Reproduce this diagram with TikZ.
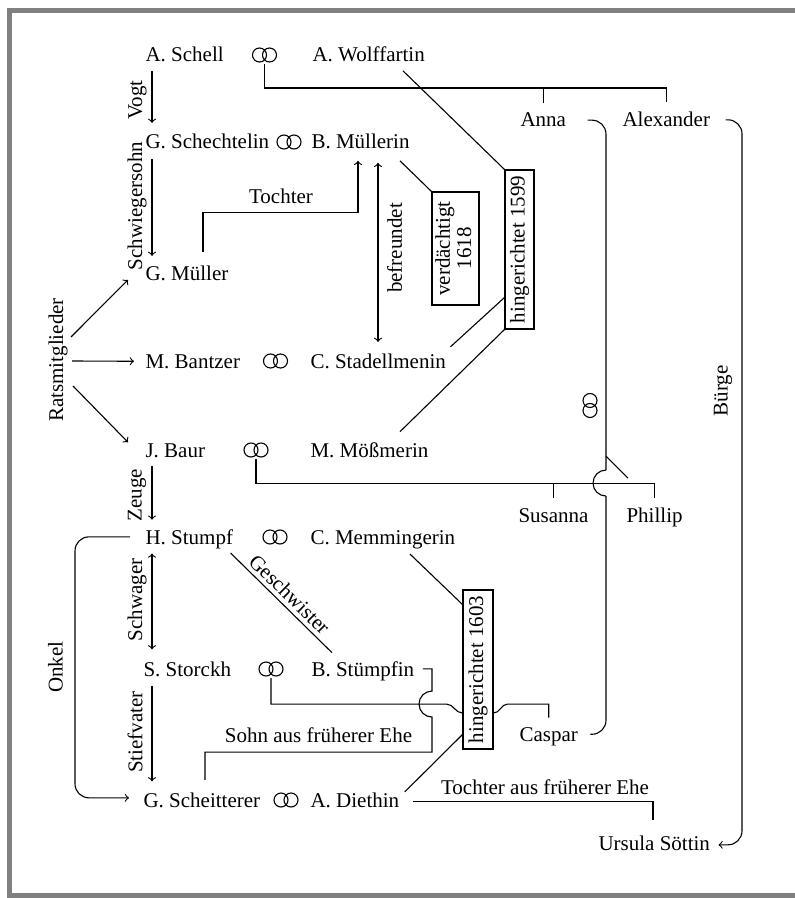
\documentclass[tikz,border=0pt]{standalone}
\usepackage{fontspec}
\setmainfont{Liberation Serif}
\usepackage{graphicx}
\usetikzlibrary{calc}
\begin{document}
\begin{tikzpicture}[x=0.5pt,y=-0.5pt,line width=0.55pt,font=\fontsize{10.5}{12.6}\selectfont]
	\tikzstyle{person}=[anchor=base west,inner sep=0]
	\tikzstyle{relation}=[rotate=90,inner sep=0]
	\tikzset{
		rings/.style={inner sep=0,minimum width=13pt,minimum height=8.5pt,
			path picture={\draw ([xshift=-2.5pt]path picture bounding box.center) circle[radius=3.5pt]
				([xshift=2.5pt]path picture bounding box.center) circle[radius=3.5pt];}},
		rings up/.style={inner sep=0,minimum width=8.5pt,minimum height=13pt,
			path picture={\draw ([yshift=-2.5pt]path picture bounding box.center) circle[radius=3.5pt]
				([yshift=2.5pt]path picture bounding box.center) circle[radius=3.5pt];}},
		verdict/.style={draw,inner sep=0}
	}
	\useasboundingbox (0,0) rectangle (795,898);
	\draw[black!50,line width=2.3pt] (795,10.5) -- (9.5,10.5) -- (9.5,895.5) -- (795,895.5);
	\node[person] (schell) at (145,62) {A. Schell};
	\node[rings] (r1) at (264.5,55) {};
	\node[person] (wolffartin) at (312,62) {A. Wolffartin};
	\node[person] (schechtelin) at (145,149) {G. Schechtelin};
	\node[rings] (r2) at (289,142) {};
	\node[person] (muellerin) at (311,149) {B. Müllerin};
	\node[person] (mueller) at (145,281) {G. Müller};
	\node[person] (bantzer) at (145,368) {M. Bantzer};
	\node[rings] (r3) at (275.5,361) {};
	\node[person] (stadellmenin) at (310,368) {C. Stadellmenin};
	\node[person] (baur) at (145,457) {J. Baur};
	\node[rings] (r4) at (256,450) {};
	\node[person] (moessmerin) at (310,457) {M. Mößmerin};
	\node[person] (stumpf) at (145,544) {H. Stumpf};
	\node[rings] (r5) at (275,537) {};
	\node[person] (memmingerin) at (310,544) {C. Memmingerin};
	\node[person] (storckh) at (143,676) {S. Storckh};
	\node[rings] (r6) at (271,669) {};
	\node[person] (stuempfin) at (311,676) {B. Stümpfin};
	\node[person] (scheitterer) at (143,807) {G. Scheitterer};
	\node[rings] (r7) at (286,800) {};
	\node[person] (diethin) at (310,807) {A. Diethin};
	\node[person] (anna) at (520,127) {Anna};
	\node[person] (alexander) at (622,127) {Alexander};
	\node[person] (susanna) at (518,522) {Susanna};
	\node[person] (phillip) at (626,522) {Phillip};
	\node[person] (caspar) at (519,741) {Caspar};
	\node[person] (ursula) at (598,850) {Ursula Söttin};
	\node[rings up] (r8) at (590,405.5) {};
	\node[verdict,minimum width=23.5pt,minimum height=56.5pt] (verd) at (455.5,248.5)
		{\rotatebox{90}{\begin{tabular}{@{}c@{}}verdächtigt\\[-2pt]1618\end{tabular}}};
	\node[verdict,minimum width=14.5pt,minimum height=79.5pt] (h1599) at (519.5,249.5) {\rotatebox{90}{hingerichtet 1599}};
	\node[verdict,minimum width=15pt,minimum height=79.5pt] (h1603) at (478,669.5) {\rotatebox{90}{hingerichtet 1603}};
	\node[relation] (vogt) at (137.5,100) {Vogt};
	\node[relation] (schwiegersohn) at (137,206) {Schwiegersohn};
	\node[relation] (zeuge) at (137,495) {Zeuge};
	\node[relation] (schwager) at (137,600) {Schwager};
	\node[relation] (stiefvater) at (135,732) {Stiefvater};
	\node[relation] (rats) at (58,360) {Ratsmitglieder};
	\node[relation] (onkel) at (55.5,667) {Onkel};
	\node[relation] (befreundet) at (394.5,248) {befreundet};
	\node[relation] (buerge) at (723,391) {Bürge};
	\node (tochter) at (281,196) {Tochter};
	\node (sohn) at (318.5,735) {Sohn aus früherer Ehe};
	\node (tochterehe) at (545,787) {Tochter aus früherer Ehe};
	\coordinate (annax) at (606,127);
	\coordinate (alexx) at (742,127);
	\coordinate (stx) at (432,676);
	\coordinate (onkelx) at (75,667);
	\draw[->] ($(schell.south west)+(7,8)$) -- ($(schechtelin.north west)+(7,-11)$);
	\draw[->] ($(schechtelin.south west)+(7,9)$) -- ($(mueller.north west)+(7,-10)$);
	\draw[->] ($(baur.south west)+(7,8)$) -- ($(stumpf.north west)+(7,-9)$);
	\draw[<->] ($(stumpf.south west)+(7,4.5)$) -- ($(storckh.north west)+(9,-11.5)$);
	\draw[->] ($(storckh.south west)+(9,9)$) -- ($(scheitterer.north west)+(9,-10.5)$);
	\draw[->] ($(rats.center)+(13,-23)$) -- ($(mueller.west)+(-17,6)$);
	\draw[->] ($(rats.center)+(14,1)$) -- ($(bantzer.west)+(-11,0)$);
	\draw[->] ($(rats.center)+(15,26)$) -- ($(baur.west)+(-17,-8)$);
	\draw[->,rounded corners=7pt] ($(stumpf.west)+(-15,-2)$) -| (onkelx) |- ($(scheitterer.west)+(-14,-2)$);
	\draw[->] ($(mueller.north west)+(58,-14)$) |- ($(muellerin.south west)+(47,63)$) -- ($(muellerin.south west)+(47,11)$);
	\draw[<->] ($(muellerin.south west)+(67,13)$) -- ($(stadellmenin.north west)+(68,-11)$);
	\draw ($(muellerin.south west)+(89,11)$) -- (verd.north west);
	\draw ($(wolffartin.south west)+(91,8)$) -- (h1599.north west);
	\draw ($(stadellmenin.north east)+(4,-6)$) -- ($(h1599.south west)+(0,-32)$);
	\draw ($(moessmerin.north west)+(90,-10)$) -- (h1599.south west);
	\draw ($(memmingerin.south west)+(100,5)$) -- ($(h1603.north west)+(0,15)$);
	\draw ($(diethin.north east)+(5,0)$) -- ($(h1603.south west)+(0,-15)$);
	\draw (r1.south) -- ++(0,24) coordinate (schellbar) -| ($(alexander.north)+(0,-10)$);
	\draw (anna.north |- schellbar) -- ($(anna.north)+(0,-10)$);
	\draw (r4.south) -- ++(0,24) coordinate (baurbar) -| ($(phillip.north)+(0,-9)$);
	\draw (susanna.north |- baurbar) -- ($(susanna.north)+(0,-10)$);
	\draw[rounded corners=7pt] ($(anna.east)+(21,0)$) -| ($(baurbar -| annax)+(0,-13)$);
	\draw ($(baurbar -| annax)+(0,-13)$) arc[start angle=270,end angle=90,radius=13];
	\draw[rounded corners=7pt] ($(baurbar -| annax)+(0,13)$) |- ($(caspar.east)+(12,-2)$);
	\draw ($(baurbar -| annax)+(0,-27)$) -- ++(22,22);
	\draw[->,rounded corners=7pt] ($(alexander.east)+(15,0)$) -| ($(ursula.east -| alexx)+(0,2)$) -- ($(ursula.east)+(8,2)$);
	\draw (r6.south) -- ++(0,26) coordinate (storckhbar) -- ($(storckhbar -| h1603.west)+(-16,0)$)
		to[out=0,in=180] ($(storckhbar -| h1603.west)+(0,9)$);
	\draw ($(storckhbar -| h1603.east)+(0,9)$) to[out=0,in=180] ($(storckhbar -| h1603.east)+(14,0)$)
		-| ($(caspar.north)+(0,-9)$);
	\draw ($(stuempfin.east)+(8,-2)$) -| ($(storckhbar -| stx)+(0,-13)$) arc[start angle=270,end angle=90,radius=13]
		-- ($(storckhbar -| stx)+(0,48)$) -| ($(scheitterer.north west)+(62,-12)$);
	\draw ($(diethin.east)+(13,2)$) -| ($(ursula.north west)+(55,-15)$);
	\draw ($(stumpf.south east)+(-3,4)$) -- node[sloped,above,inner sep=2pt]{Geschwister} ($(stuempfin.north west)+(21,-8)$);
\end{tikzpicture}
\end{document}
